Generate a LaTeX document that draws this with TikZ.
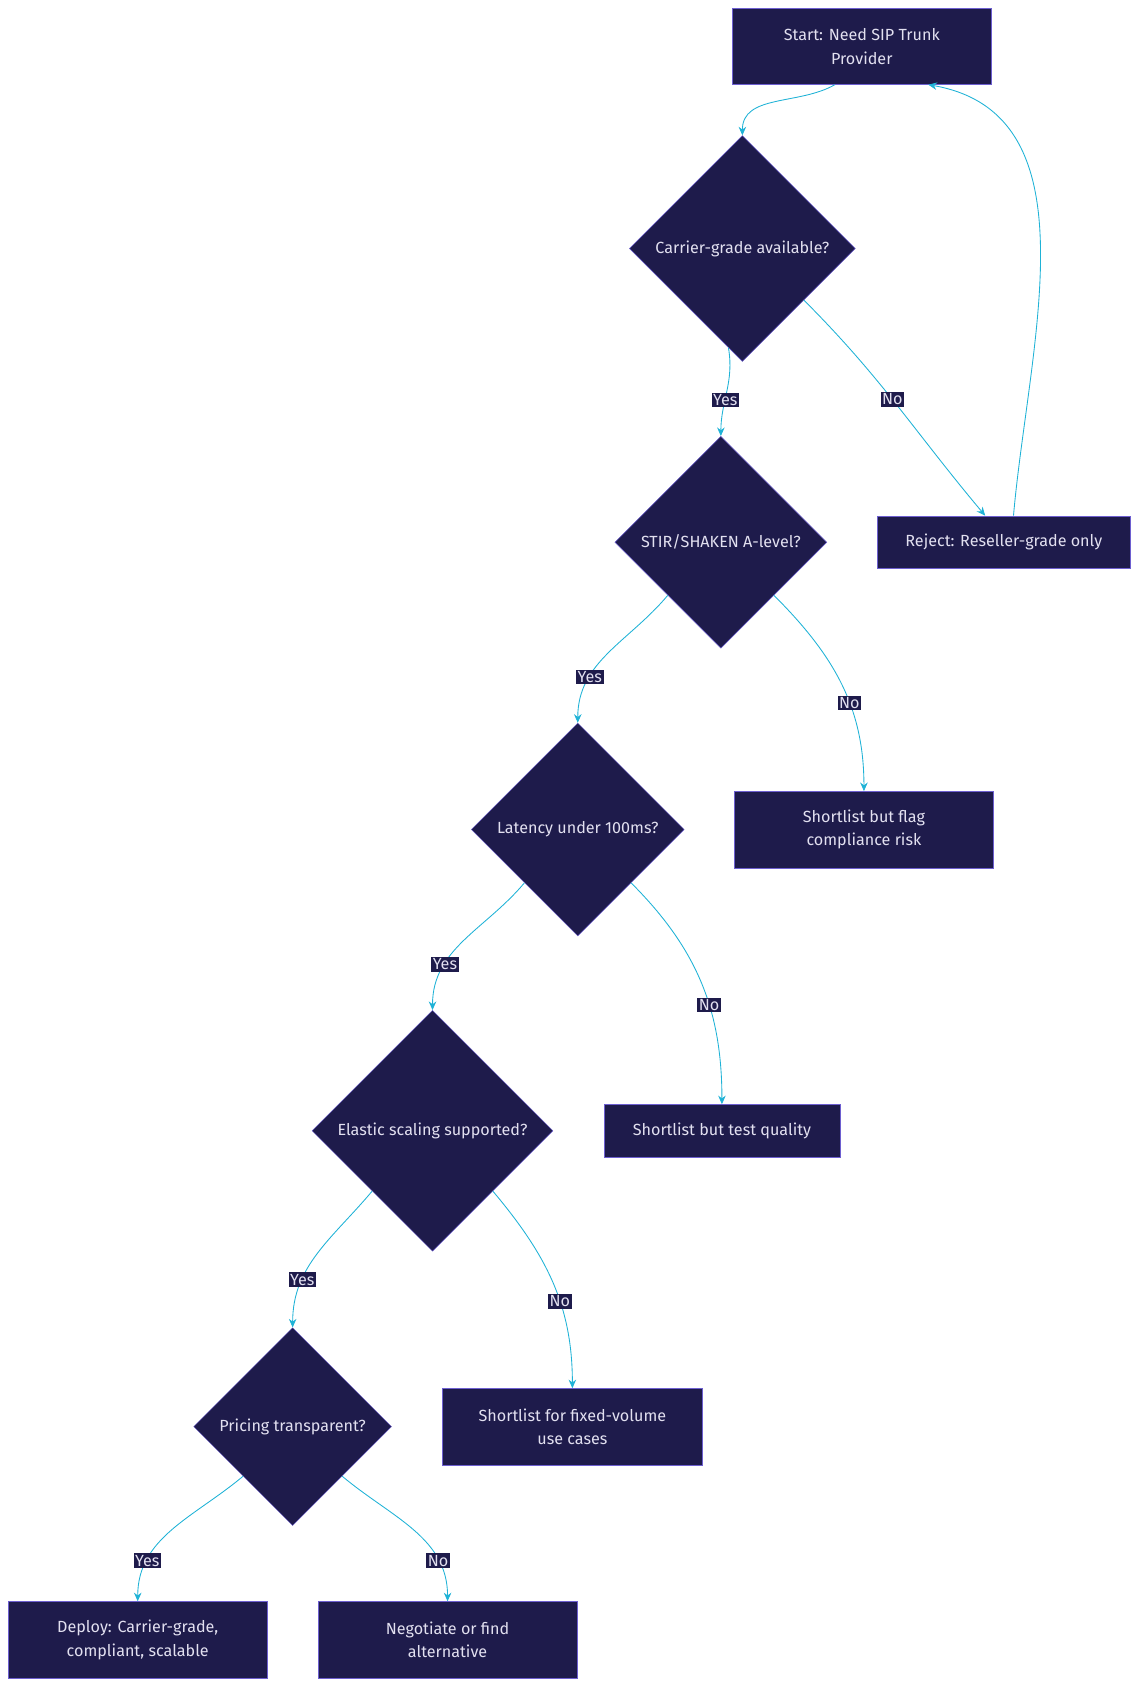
\documentclass[tikz,border=0pt]{standalone}
\usepackage{fontspec}
\setmainfont{Fira Sans}
\usetikzlibrary{shapes.geometric,arrows.meta}
\definecolor{navy}{HTML}{1E1B4B}
\definecolor{edgeline}{HTML}{6D5FD0}
\definecolor{txt}{HTML}{E2E0F0}
\definecolor{wire}{HTML}{1FB2D6}
\tikzset{
  box/.style={draw=edgeline, fill=navy, text=txt, minimum height=71pt, align=center, font=\fontsize{15}{22}\selectfont},
  dec/.style={diamond, aspect=1, draw=edgeline, fill=navy, text=txt, inner sep=0pt, font=\fontsize{15}{22}\selectfont},
  link/.style={wire, thick, -{Stealth[length=8pt,width=7pt]}},
  tag/.style={fill=navy, text=txt, inner sep=1.5pt, font=\fontsize{15}{18}\selectfont}
}
\begin{document}
\begin{tikzpicture}[x=1pt,y=-1pt]
	\useasboundingbox (0,0) rectangle (1060,1568);
	% boxes
	\node [box, minimum width=241pt] (start) at (801,43) {Start: Need SIP Trunk\\Provider};
	\node [box, minimum width=235pt, minimum height=49pt] (reject) at (933,504) {Reject: Reseller-grade only};
	\node [box, minimum width=241pt] (flag) at (803,771) {Shortlist but flag\\compliance risk};
	\node [box, minimum width=219pt, minimum height=49pt] (quality) at (671,1051) {Shortlist but test quality};
	\node [box, minimum width=242pt] (fixed) at (532,1326) {Shortlist for fixed-volume\\use cases};
	\node [box, minimum width=240pt] (deploy) at (128,1524) {Deploy: Carrier-grade,\\compliant, scalable};
	\node [box, minimum width=241pt] (nego) at (416,1524) {Negotiate or find\\alternative};
	% decisions
	\node [dec, minimum size=210pt] (carrier) at (690,231) {Carrier-grade available?};
	\node [dec, minimum size=197pt] (stir) at (670,504) {STIR/SHAKEN A-level?};
	\node [dec, minimum size=198pt] (lat) at (537,771) {Latency under 100ms?};
	\node [dec, minimum size=224pt] (elastic) at (402,1051) {Elastic scaling supported?};
	\node [dec, minimum size=184pt] (price) at (272,1326) {Pricing transparent?};
	% connectors
	\draw [link] (start.-125) to [out=-150,in=90] (carrier.north);
	\draw [link] (carrier.-98) to [out=-80,in=90] node [tag, pos=0.6] {Yes} (stir.north);
	\draw [link] (carrier.-40) to [out=-45,in=130] node [tag, pos=0.47] {No} (reject.125);
	\draw [link] (reject.70) to [out=85,in=-10] (start.-30);
	\draw [link] (stir.-135) to [out=-130,in=90] node [tag, pos=0.7] {Yes} (lat.north);
	\draw [link] (stir.-45) to [out=-45,in=90] node [tag, pos=0.6] {No} (flag.north);
	\draw [link] (lat.-135) to [out=-130,in=90] node [tag, pos=0.7] {Yes} (elastic.north);
	\draw [link] (lat.-45) to [out=-45,in=90] node [tag, pos=0.6] {No} (quality.north);
	\draw [link] (elastic.-135) to [out=-130,in=90] node [tag, pos=0.7] {Yes} (price.north);
	\draw [link] (elastic.-45) to [out=-50,in=90] node [tag, pos=0.6] {No} (fixed.north);
	\draw [link] (price.-135) to [out=-140,in=90] node [tag, pos=0.75] {Yes} (deploy.north);
	\draw [link] (price.-45) to [out=-40,in=90] node [tag, pos=0.75] {No} (nego.north);
\end{tikzpicture}
\end{document}
